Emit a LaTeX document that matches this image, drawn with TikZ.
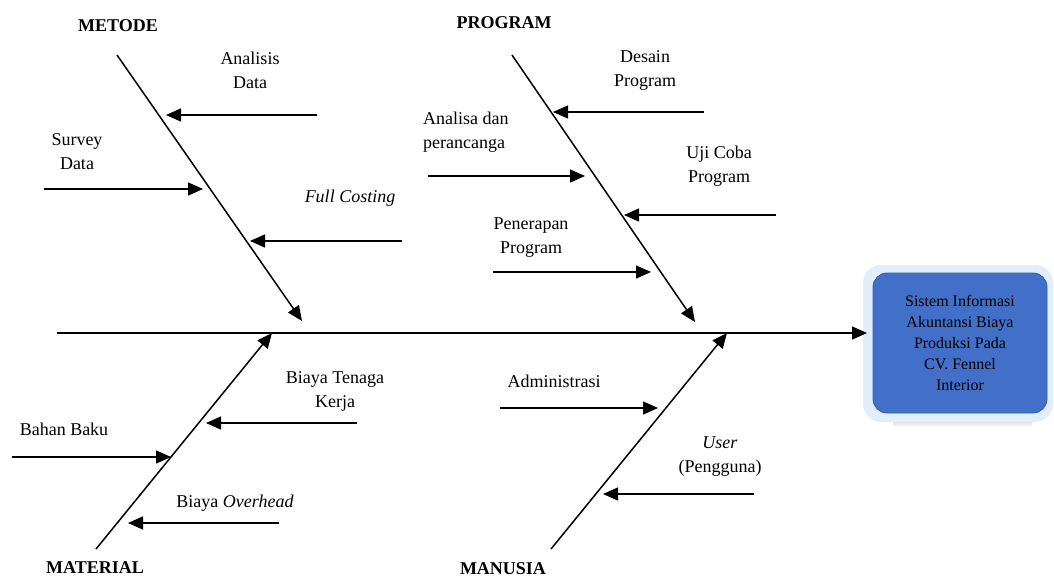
\documentclass[tikz,border=0pt]{standalone}
\usepackage{fontspec}
\setmainfont{Liberation Serif}
\usetikzlibrary{arrows.meta}
\definecolor{boxblue}{RGB}{66,112,200}
\definecolor{boxedge}{RGB}{50,90,170}
\definecolor{glow}{RGB}{226,238,250}
\definecolor{shade}{RGB}{150,156,172}
\begin{document}
\begin{tikzpicture}[x=1pt,y=-1pt,
  lbl/.style={font=\fontsize{18}{24}\selectfont, align=center, inner sep=0pt},
  ttl/.style={font=\fontsize{18}{24}\selectfont\bfseries, inner sep=0pt},
  bone/.style={line width=1.5pt, -{Triangle[length=15pt,width=13pt]}},
  sub/.style={line width=1.5pt, -{Triangle[length=15pt,width=13pt]}},
  resbox/.style={draw=boxedge, line width=0.8pt, fill=boxblue, rounded corners=14pt,
    minimum width=174pt, minimum height=140pt, align=center, outer sep=6pt,
    font=\fontsize{16}{21}\selectfont, text=black}
]
\useasboundingbox (0,0) rectangle (1054,581);

% result box
\fill[shade] (893,405) rectangle (1032,427);
\fill[glow, rounded corners=18pt] (863,265) rectangle (1053,422);
\node[resbox] (res) at (960,343) {Sistem Informasi\\Akuntansi Biaya\\Produksi Pada\\CV. Fennel\\Interior};

% spine
\coordinate (spine0) at (57,333);
\draw[bone] (spine0) -- (spine0 -| res.west);

% titles
\node[ttl] (metode) at (118,26) {METODE};
\node[ttl] (program) at (504,23) {PROGRAM};
\node[ttl] (material) at (95,568) {MATERIAL};
\node[ttl] (manusia) at (503,569) {MANUSIA};

% bones
\coordinate (mA) at (117,55);  \coordinate (mB) at (302,321);
\coordinate (pA) at (512,55);  \coordinate (pB) at (695,322);
\coordinate (tA) at (96,549);  \coordinate (tB) at (272,333);
\coordinate (uA) at (551,549); \coordinate (uB) at (727,333);
\draw[bone] (mA) -- (mB);
\draw[bone] (pA) -- (pB);
\draw[bone] (tA) -- (tB);
\draw[bone] (uA) -- (uB);

% labels
\node[lbl] (analisis) at (250,70) {Analisis\\Data};
\node[lbl] (survey) at (77,152) {Survey\\Data};
\node[lbl] (fullc) at (350,198) {\textit{Full Costing}};
\node[lbl] (desain) at (645,70) {Desain\\Program};
\node[lbl, align=left, anchor=west] (analisa) at (423,132) {Analisa dan\\perancanga};
\node[lbl] (uji) at (719,166) {Uji Coba\\Program};
\node[lbl] (penerapan) at (531,238) {Penerapan\\Program};
\node[lbl] (btk) at (335,391) {Biaya Tenaga\\Kerja};
\node[lbl] (bahan) at (64,429) {Bahan Baku};
\node[lbl] (bo) at (235,503) {Biaya \textit{Overhead}};
\node[lbl] (adm) at (554,381) {Administrasi};
\node[lbl] (user) at (720,457) {\textit{User}\\(Pengguna)};

% sub-cause arrows
\coordinate (adA) at (317,115); \coordinate (adB) at (166,115);
\coordinate (sdA) at (44,189);  \coordinate (sdB) at (203,189);
\coordinate (fcA) at (402,241); \coordinate (fcB) at (250,241);
\coordinate (dpA) at (704,112); \coordinate (dpB) at (553,112);
\coordinate (apA) at (428,176); \coordinate (apB) at (585,176);
\coordinate (ucA) at (776,215); \coordinate (ucB) at (624,215);
\coordinate (ppA) at (493,272); \coordinate (ppB) at (651,272);
\coordinate (btA) at (357,423); \coordinate (btB) at (206,423);
\coordinate (bbA) at (12,457);  \coordinate (bbB) at (171,457);
\coordinate (boA) at (279,523); \coordinate (boB) at (128,523);
\coordinate (amA) at (500,408); \coordinate (amB) at (658,408);
\coordinate (usA) at (754,494); \coordinate (usB) at (603,494);
\foreach \p in {ad,sd,fc,dp,ap,uc,pp,bt,bb,bo,am,us}
  \draw[sub] (\p A) -- (\p B);
\end{tikzpicture}
\end{document}
